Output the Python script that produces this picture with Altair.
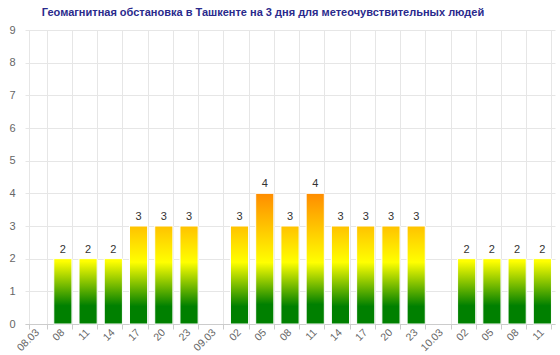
import altair as alt
import pandas as pd

labels = ["08.03", "08", "11", "14", "17", "20", "23",
          "09.03", "02", "05", "08", "11", "14", "17", "20", "23",
          "10.03", "02", "05", "08", "11"]
values = [None, 2, 2, 2, 3, 3, 3,
          None, 3, 4, 3, 4, 3, 3, 3, 3,
          None, 2, 2, 2, 2]

df = pd.DataFrame({"i": list(range(len(labels))), "v": values})

label_expr = "[" + ",".join("'%s'" % l for l in labels) + "][datum.value]"

FONT = "Liberation Sans"

def grad(stops):
    return alt.LinearGradient(
        gradient="linear", x1=0, y1=1, x2=0, y2=0,
        stops=[alt.GradientStop(offset=o, color=c) for o, c in stops],
    )

grads = {
    2: grad([(0, "#008000"), (0.28, "#008000"), (0.96, "#FFFF00"), (1, "#FFFF00")]),
    3: grad([(0, "#008000"), (0.18, "#008000"), (0.63, "#FFFF00"), (1, "#FFC200")]),
    4: grad([(0, "#008000"), (0.15, "#008000"), (0.47, "#FFFF00"), (1, "#FF8C00")]),
}

x = alt.X(
    "i:O",
    title=None,
    scale=alt.Scale(domain=list(range(len(labels))), paddingInner=0.28, paddingOuter=0.14),
    axis=alt.Axis(
        labelExpr=label_expr, labelAngle=-45, labelFontSize=10.5, labelColor="#666666",
        labelFont=FONT, tickBand="extent", grid=True, gridColor="#e6e6e6",
        domainColor="#cccccc", tickColor="#cccccc", tickSize=5, labelPadding=-2,
        labelBaseline="top", labelAlign="right", labelOffset=-4,
    ),
)
y = alt.Y(
    "v:Q",
    title=None,
    scale=alt.Scale(domain=[0, 9], nice=False),
    axis=alt.Axis(
        values=list(range(10)), labelFontSize=11, labelColor="#666666", labelFont=FONT,
        grid=True, gridColor="#e6e6e6", domain=False, ticks=False, labelPadding=10,
    ),
)

base = alt.Chart(df).encode(x=x, y=y)

layers = []
for val, g in grads.items():
    layers.append(
        base.transform_filter(f"datum.v == {val}").mark_bar(
            color=g, stroke="#ffffff", strokeWidth=1
        )
    )

text = base.transform_filter("isValid(datum.v)").mark_text(
    dy=-9, fontSize=11, color="#333333", font=FONT
).encode(text="v:Q")
layers.append(text)

chart = alt.layer(*layers).properties(
    width=530,
    height=294,
    autosize=alt.AutoSizeParams(type="none"),
    padding={"left": 25, "right": 5, "top": 30, "bottom": 31},
    title=alt.TitleParams(
        "Геомагнитная обстановка в Ташкенте на 3 дня для метеочувствительных людей",
        fontSize=11, fontWeight="bold", color="#2a2a8c", font=FONT,
        anchor="middle", dx=-27, offset=6,
    ),
).configure_view(stroke=None)

chart.save("out.html", embed_options={"renderer": "svg", "actions": False})
